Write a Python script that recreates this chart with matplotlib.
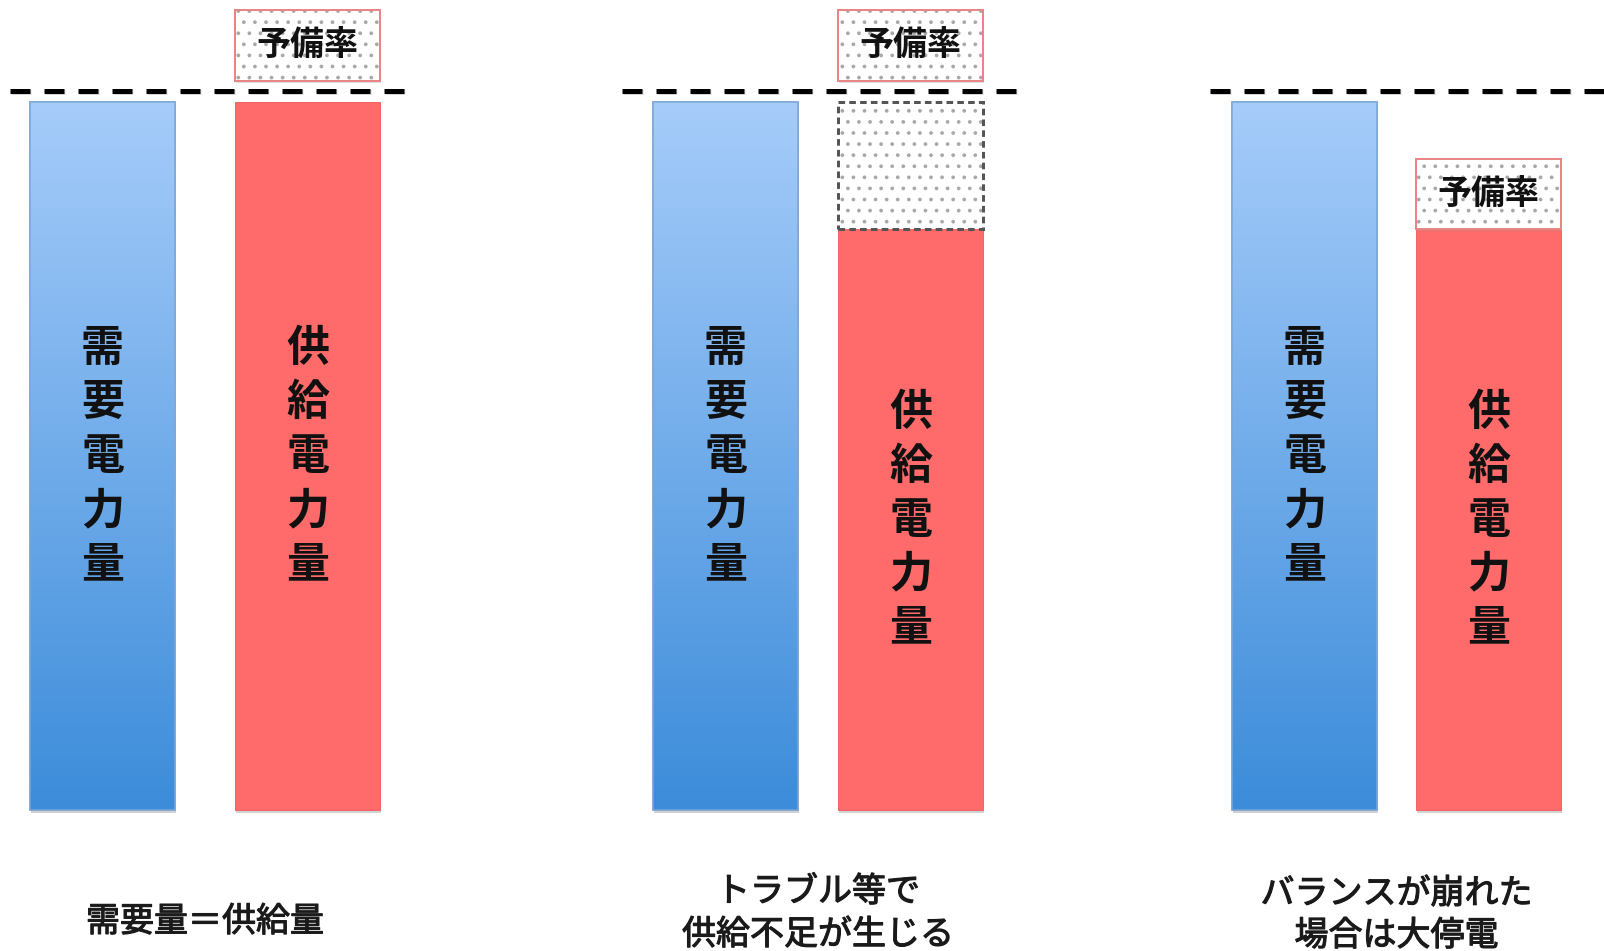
import numpy as np
import matplotlib
matplotlib.use("Agg")
import matplotlib.pyplot as plt
from matplotlib import patheffects as pe
from matplotlib.patches import Rectangle

plt.rcParams['font.family'] = ['Noto Sans CJK JP', 'DejaVu Sans']

# ---- data (relative power, 100 = planned demand level) ----
demand = [100, 100, 100]
supply = [100, 82, 82]
shortfall = [0, 18, 0]            # capacity lost to trouble
reserve = [10, 10, 10]            # reserve margin block height
reserve_base = [103, 103, 82]     # where the reserve block sits
demand_label = "需要電力量"
supply_label = "供給電力量"
reserve_label = "予備率"
captions = [["需要量＝供給量"],
            ["トラブル等で", "供給不足が生じる"],
            ["バランスが崩れた", "場合は大停電"]]

# ---- layout (pixels) ----
W, H = 1604, 951
DPI = 400 / 3
BASE_PX = 810          # pixel row of value 0
PX_PER_UNIT = 7.08     # pixels per value unit
demand_left = [30, 653, 1232]
supply_left = [235, 838, 1416]
bar_w = 145
level_spans = [(10, 405), (622, 1020), (1210, 1620)]
level_gap_px = 11
caption_rows = [[922], [892, 935], [894, 936]]

plt.rcParams['hatch.linewidth'] = 1.5 * 72 / DPI


def py(px):
    """pixel row -> data y"""
    return (BASE_PX - px) / PX_PER_UNIT


def pt(px):
    """pixels -> points"""
    return px * 72 / DPI


fig = plt.figure(figsize=(W / DPI, H / DPI), dpi=DPI)
ax = fig.add_axes([0, 0, 1, 1])
ax.set_xlim(0, W)
ax.set_ylim(py(H), py(0))
ax.axis('off')

blue_top = np.array([0.65, 0.80, 0.98])
blue_bot = np.array([0.235, 0.55, 0.855])
red = '#ff6a6a'
dot_color = '#a8a8a8'
shadow = [pe.SimplePatchShadow(offset=(pt(1), -pt(3)), shadow_rgbFace='0.55', alpha=0.4),
          pe.Normal()]

grad = np.linspace(0, 1, 256)[:, None, None]
blue_img = blue_top * (1 - grad) + blue_bot * grad

for i in range(3):
    # demand bar with vertical gradient
    bx = demand_left[i] + bar_w / 2
    dbar = ax.bar(bx, demand[i], width=bar_w, bottom=0, color=blue_bot,
                  edgecolor='#7ea6d6', linewidth=pt(1.5), zorder=2)[0]
    dbar.set_path_effects(shadow)
    img = ax.imshow(blue_img, extent=(demand_left[i], demand_left[i] + bar_w, 0, demand[i]),
                    aspect='auto', origin='upper', zorder=3, interpolation='bilinear')
    img.set_clip_path(dbar)
    ax.add_patch(Rectangle((demand_left[i], 0), bar_w, demand[i], fill=False,
                           edgecolor='#7ea6d6', linewidth=pt(1.5), zorder=4))

    # supply bar
    sx = supply_left[i] + bar_w / 2
    sbar = ax.bar(sx, supply[i], width=bar_w, bottom=0, color=red,
                  edgecolor='#f46464', linewidth=pt(1), zorder=2)[0]
    sbar.set_path_effects(shadow)

    # vertical labels inside bars
    pitch = 54 / PX_PER_UNIT
    for bar_h, cx, label in ((demand[i], bx, demand_label), (supply[i], sx, supply_label)):
        mid = bar_h / 2
        n = len(label)
        for k, ch in enumerate(label):
            ax.text(cx, mid + ((n - 1) / 2 - k) * pitch, ch, ha='center', va='center',
                    fontsize=pt(43), fontweight='bold', color='#111111', zorder=6)

    # supply lost to trouble: dotted, dashed outline
    if shortfall[i] > 0:
        ax.add_patch(Rectangle((supply_left[i], supply[i]), bar_w, shortfall[i],
                               facecolor='white', edgecolor=dot_color, hatch='..',
                               linewidth=0, zorder=2))
        ax.add_patch(Rectangle((supply_left[i], supply[i]), bar_w, shortfall[i],
                               fill=False, edgecolor='#555555', linewidth=pt(3),
                               linestyle=(0, (2.2, 1.4)), zorder=4))

    # reserve margin block
    rb = reserve_base[i]
    rpatch = ax.add_patch(Rectangle((supply_left[i], rb), bar_w, reserve[i],
                                    facecolor='white', edgecolor=dot_color, hatch='..',
                                    linewidth=0, zorder=2))
    rpatch.set_path_effects([pe.SimplePatchShadow(offset=(pt(1), -pt(2)), shadow_rgbFace='0.6',
                                                  alpha=0.3), pe.Normal()])
    ax.add_patch(Rectangle((supply_left[i], rb), bar_w, reserve[i], fill=False,
                           edgecolor='#e98585', linewidth=pt(2), zorder=4))
    ax.text(sx, rb + reserve[i] / 2, reserve_label, ha='center', va='center',
            fontsize=pt(34), fontweight='bold', color='#111111', zorder=6)

    # planned demand level
    x0, x1 = level_spans[i]
    level = demand[i] + level_gap_px / PX_PER_UNIT
    ax.plot([x0, x1], [level, level],
            color='black', linewidth=pt(5), linestyle=(0, (4.0, 2.8)),
            dash_capstyle='butt', zorder=5, clip_on=True,
            path_effects=[pe.SimpleLineShadow(offset=(pt(0.7), -pt(1.3)), shadow_color='0.5',
                                              alpha=0.3),
                          pe.Normal()])

    # caption
    gx = (demand_left[i] + supply_left[i] + bar_w) / 2
    for line, row in zip(captions[i], caption_rows[i]):
        ax.text(gx, py(row), line, ha='center', va='center', fontsize=pt(34),
                color='#1a1a1a', zorder=6,
                path_effects=[pe.withStroke(linewidth=pt(1.1), foreground='#1a1a1a')])

fig.savefig('out.png', dpi=DPI, facecolor='white')
